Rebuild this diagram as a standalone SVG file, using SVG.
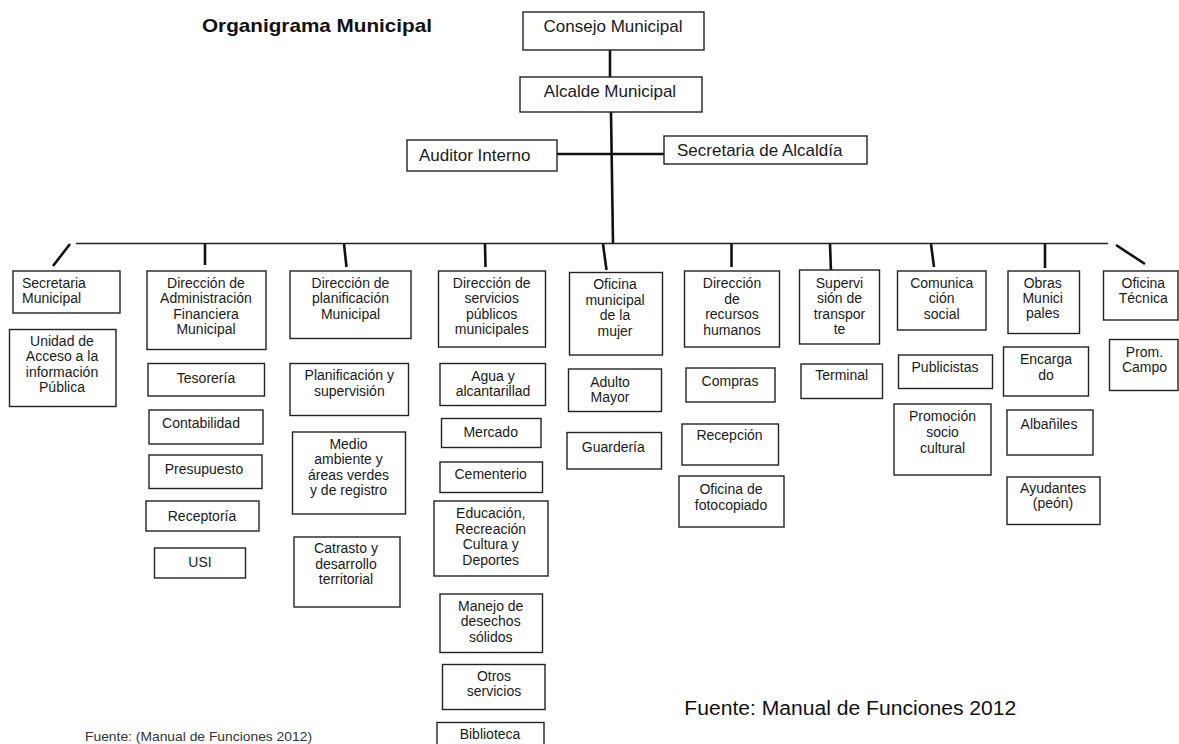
<svg xmlns="http://www.w3.org/2000/svg" width="1179" height="744" viewBox="0 0 1179 744">
<style>
  .b{fill:#fff;stroke:#222;stroke-width:1.4}
  .t{font-family:"Liberation Sans",Arial,sans-serif;font-size:14px;fill:#1a1a1a;text-anchor:middle}
  .tl{text-anchor:start}
  .big{font-family:"Liberation Sans",Arial,sans-serif;font-size:17px;fill:#1a1a1a}
  .c{stroke:#111;stroke-width:2.6;fill:none;stroke-linecap:butt}
  .h{stroke:#222;stroke-width:1.6;fill:none}
</style>
<rect width="1179" height="744" fill="#fff"/>
<text x="202" y="31.5" font-family="'Liberation Sans',Arial,sans-serif" font-size="19" font-weight="bold" fill="#111" textLength="230" lengthAdjust="spacingAndGlyphs">Organigrama Municipal</text>

<g id="connectors">
  <line class="c" x1="610" y1="50" x2="610" y2="77"/>
  <line class="c" x1="611" y1="112" x2="613" y2="243.5"/>
  <line class="c" x1="557" y1="154" x2="664" y2="154"/>
  <line class="h" x1="76" y1="243.5" x2="1108" y2="243.5"/>
  <line class="c" x1="70" y1="244" x2="53" y2="266"/>
  <line class="c" x1="205" y1="244" x2="205" y2="265"/>
  <line class="c" x1="344" y1="244" x2="346.5" y2="267"/>
  <line class="c" x1="485" y1="244" x2="485.5" y2="267"/>
  <line class="c" x1="603" y1="244" x2="606.5" y2="270"/>
  <line class="c" x1="731.5" y1="244" x2="731.5" y2="267"/>
  <line class="c" x1="830" y1="244" x2="831" y2="271.5"/>
  <line class="c" x1="931" y1="244" x2="934" y2="267"/>
  <line class="c" x1="1045" y1="244" x2="1045" y2="268"/>
  <line class="c" x1="1116" y1="245" x2="1145" y2="264"/>
</g>

<g id="consejo"><rect class="b" x="523" y="12" width="181" height="38"/><text class="big" x="613" y="31.5" text-anchor="middle">Consejo Municipal</text></g>
<g id="alcalde"><rect class="b" x="520" y="77" width="182" height="35"/><text class="big" x="610" y="97" text-anchor="middle">Alcalde Municipal</text></g>
<g id="auditor"><rect class="b" x="407" y="140" width="150" height="31"/><text class="big" x="419" y="161">Auditor Interno</text></g>
<g id="secalcaldia"><rect class="b" x="664" y="136" width="203" height="28"/><text class="big" x="677" y="156">Secretaria de Alcaldía</text></g>

<!-- Column 1 -->
<g id="secmun"><rect class="b" x="13" y="271" width="107" height="42"/><text class="t tl"><tspan x="22" y="287.5">Secretaria</tspan><tspan x="22" y="303">Municipal</tspan></text></g>
<g id="uaip"><rect class="b" x="9.5" y="329.5" width="106.5" height="77"/><text class="t"><tspan x="62" y="345.5">Unidad de</tspan><tspan x="62" y="361">Acceso a la</tspan><tspan x="62" y="376.5">información</tspan><tspan x="62" y="392">Pública</tspan></text></g>

<!-- Column 2 -->
<g id="dafm"><rect class="b" x="147" y="271" width="119" height="78.5"/><text class="t"><tspan x="206" y="287.5">Dirección de</tspan><tspan x="206" y="303">Administración</tspan><tspan x="206" y="318.5">Financiera</tspan><tspan x="206" y="334">Municipal</tspan></text></g>
<g id="tesoreria"><rect class="b" x="148" y="363.5" width="116.5" height="32.5"/><text class="t" x="206" y="383">Tesorería</text></g>
<g id="contabilidad"><rect class="b" x="149" y="410" width="114" height="34"/><text class="t" x="201" y="427.5">Contabilidad</text></g>
<g id="presupuesto"><rect class="b" x="149" y="455" width="113" height="33.5"/><text class="t" x="204" y="473.5">Presupuesto</text></g>
<g id="receptoria"><rect class="b" x="146" y="501" width="113" height="30"/><text class="t" x="202" y="520.5">Receptoría</text></g>
<g id="usi"><rect class="b" x="154.5" y="548" width="91" height="30"/><text class="t" x="200" y="567">USI</text></g>

<!-- Column 3 -->
<g id="dpm"><rect class="b" x="290" y="271" width="121" height="67.5"/><text class="t"><tspan x="350.5" y="287.5">Dirección de</tspan><tspan x="350.5" y="303">planificación</tspan><tspan x="350.5" y="318.5">Municipal</tspan></text></g>
<g id="planif"><rect class="b" x="290" y="363.5" width="118.5" height="52"/><text class="t"><tspan x="349.3" y="380">Planificación y</tspan><tspan x="349.3" y="395.5">supervisión</tspan></text></g>
<g id="medio"><rect class="b" x="292.5" y="432" width="113" height="82"/><text class="t"><tspan x="348.5" y="449">Medio</tspan><tspan x="348.5" y="464.3">ambiente y</tspan><tspan x="348.5" y="479.6">áreas verdes</tspan><tspan x="348.5" y="495">y de registro</tspan></text></g>
<g id="catrasto"><rect class="b" x="294" y="537" width="106" height="70"/><text class="t"><tspan x="346" y="553">Catrasto y</tspan><tspan x="346" y="568.5">desarrollo</tspan><tspan x="346" y="584">territorial</tspan></text></g>

<!-- Column 4 -->
<g id="dspm"><rect class="b" x="438.5" y="271" width="107" height="76"/><text class="t"><tspan x="491.7" y="287.5">Dirección de</tspan><tspan x="491.7" y="303">servicios</tspan><tspan x="491.7" y="318.5">públicos</tspan><tspan x="491.7" y="334">municipales</tspan></text></g>
<g id="agua"><rect class="b" x="440" y="363.5" width="105.5" height="42"/><text class="t"><tspan x="493" y="380.5">Agua y</tspan><tspan x="493" y="396">alcantarillad</tspan></text></g>
<g id="mercado"><rect class="b" x="441.5" y="418.5" width="99.5" height="29"/><text class="t" x="490.7" y="437">Mercado</text></g>
<g id="cementerio"><rect class="b" x="440" y="462" width="102.5" height="30.5"/><text class="t" x="490.7" y="479">Cementerio</text></g>
<g id="educacion"><rect class="b" x="434" y="501" width="114" height="75"/><text class="t"><tspan x="490.7" y="518">Educación,</tspan><tspan x="490.7" y="533.6">Recreación</tspan><tspan x="490.7" y="549.2">Cultura y</tspan><tspan x="490.7" y="564.8">Deportes</tspan></text></g>
<g id="manejo"><rect class="b" x="440" y="594" width="102.5" height="58.5"/><text class="t"><tspan x="490.7" y="610.5">Manejo de</tspan><tspan x="490.7" y="626">desechos</tspan><tspan x="490.7" y="641.5">sólidos</tspan></text></g>
<g id="otros"><rect class="b" x="442.5" y="664.5" width="102.5" height="45"/><text class="t"><tspan x="494" y="680.5">Otros</tspan><tspan x="494" y="696">servicios</tspan></text></g>
<g id="biblioteca"><rect class="b" x="437" y="722.5" width="107" height="30"/><text class="t" x="490" y="739">Biblioteca</text></g>

<!-- Column 5 -->
<g id="omm"><rect class="b" x="569.5" y="272.5" width="93" height="82.5"/><text class="t"><tspan x="615" y="289">Oficina</tspan><tspan x="615" y="304.7">municipal</tspan><tspan x="615" y="320.4">de la</tspan><tspan x="615" y="336">mujer</tspan></text></g>
<g id="adulto"><rect class="b" x="568.5" y="369" width="93" height="42.5"/><text class="t"><tspan x="610" y="386.5">Adulto</tspan><tspan x="610" y="402">Mayor</tspan></text></g>
<g id="guarderia"><rect class="b" x="567" y="432.5" width="94.5" height="36.5"/><text class="t" x="613.3" y="452">Guardería</text></g>

<!-- Column 6 -->
<g id="drh"><rect class="b" x="684.5" y="271" width="95" height="76"/><text class="t"><tspan x="732" y="288">Dirección</tspan><tspan x="732" y="303.5">de</tspan><tspan x="732" y="319">recursos</tspan><tspan x="732" y="334.5">humanos</tspan></text></g>
<g id="compras"><rect class="b" x="686" y="368" width="89" height="34"/><text class="t" x="730" y="385.5">Compras</text></g>
<g id="recepcion"><rect class="b" x="682" y="424" width="96.5" height="41"/><text class="t" x="729.5" y="439.5">Recepción</text></g>
<g id="fotocopiado"><rect class="b" x="679" y="476" width="105" height="51"/><text class="t"><tspan x="731" y="494">Oficina de</tspan><tspan x="731" y="509.5">fotocopiado</tspan></text></g>

<!-- Column 7 -->
<g id="supervision"><rect class="b" x="799.5" y="270" width="80" height="74"/><text class="t"><tspan x="839.5" y="288">Supervi</tspan><tspan x="839.5" y="303.3">sión de</tspan><tspan x="839.5" y="318.6">transpor</tspan><tspan x="839.5" y="334">te</tspan></text></g>
<g id="terminal"><rect class="b" x="801" y="364" width="81.5" height="34.5"/><text class="t" x="841.7" y="380">Terminal</text></g>

<!-- Column 8 -->
<g id="comunicacion"><rect class="b" x="897.5" y="271" width="88.5" height="59"/><text class="t"><tspan x="941.7" y="288">Comunica</tspan><tspan x="941.7" y="303.3">ción</tspan><tspan x="941.7" y="318.6">social</tspan></text></g>
<g id="publicistas"><rect class="b" x="898.5" y="355" width="94" height="33.5"/><text class="t" x="945" y="371.5">Publicistas</text></g>
<g id="promocion"><rect class="b" x="894" y="404" width="97" height="71"/><text class="t"><tspan x="942.5" y="420.5">Promoción</tspan><tspan x="942.5" y="436.5">socio</tspan><tspan x="942.5" y="452.5">cultural</tspan></text></g>

<!-- Column 9 -->
<g id="obras"><rect class="b" x="1008" y="271" width="71.5" height="62.5"/><text class="t"><tspan x="1042.7" y="288">Obras</tspan><tspan x="1042.7" y="303.2">Munici</tspan><tspan x="1042.7" y="318.4">pales</tspan></text></g>
<g id="encargado"><rect class="b" x="1003.5" y="347" width="85" height="49"/><text class="t"><tspan x="1046" y="363.5">Encarga</tspan><tspan x="1046" y="380">do</tspan></text></g>
<g id="albaniles"><rect class="b" x="1007" y="410" width="86" height="45"/><text class="t" x="1049" y="429">Albañiles</text></g>
<g id="ayudantes"><rect class="b" x="1007" y="477" width="93" height="47.5"/><text class="t"><tspan x="1053" y="492.5">Ayudantes</tspan><tspan x="1053" y="508">(peón)</tspan></text></g>

<!-- Column 10 -->
<g id="oficinatecnica"><rect class="b" x="1103.5" y="271" width="74.5" height="49"/><text class="t"><tspan x="1143.3" y="288">Oficina</tspan><tspan x="1143.3" y="303.3">Técnica</tspan></text></g>
<g id="promcampo"><rect class="b" x="1109.5" y="339.5" width="68.5" height="51"/><text class="t"><tspan x="1144.5" y="356.5">Prom.</tspan><tspan x="1144.5" y="371.5">Campo</tspan></text></g>

<text x="684.3" y="715" font-family="'Liberation Sans',Arial,sans-serif" font-size="20" fill="#111" textLength="332" lengthAdjust="spacingAndGlyphs">Fuente: Manual de Funciones 2012</text>
<text x="85" y="741" font-family="'Liberation Sans',Arial,sans-serif" font-size="13" fill="#333" textLength="227" lengthAdjust="spacingAndGlyphs">Fuente: (Manual de Funciones 2012)</text>
</svg>
